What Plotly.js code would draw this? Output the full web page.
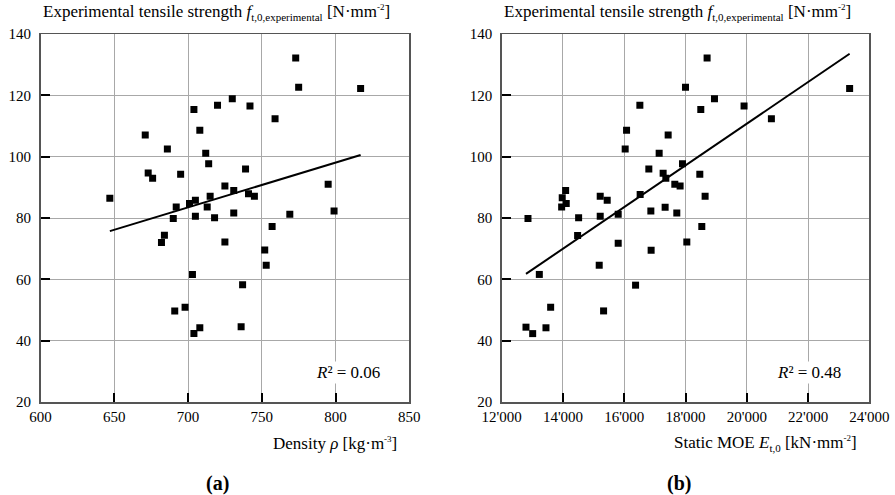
<!DOCTYPE html>
<html>
<head>
<meta charset="utf-8">
<script src="https://cdn.plot.ly/plotly-3.0.1.min.js"></script>
<style>
  html, body { margin: 0; padding: 0; background: #ffffff; }
  #chart { width: 895px; height: 495px; }
</style>
</head>
<body>
<div id="chart"></div>
<script>
// (a) Density vs experimental tensile strength
const densityRho = [647, 773, 775, 817, 730, 720, 742, 704, 759, 671, 708, 686, 712, 714, 739, 673, 676, 695, 795, 725, 731, 741, 745, 715, 705, 701, 692, 713, 799, 769, 731, 705, 718, 690, 757, 684, 682, 725, 752, 753, 703, 737, 698, 691, 708, 704, 736];
const strengthA  = [86.4, 132.2, 122.6, 122.2, 118.9, 116.8, 116.5, 115.4, 112.4, 107.1, 108.6, 102.5, 101.1, 97.7, 96.0, 94.7, 93.0, 94.3, 91.0, 90.4, 89.0, 87.9, 87.1, 87.1, 85.8, 84.7, 83.6, 83.6, 82.3, 81.2, 81.6, 80.6, 80.1, 79.8, 77.2, 74.4, 72.0, 72.2, 69.6, 64.6, 61.6, 58.2, 50.9, 49.7, 44.2, 42.3, 44.5];

// (b) Static MOE vs experimental tensile strength
const moeE      = [12858, 18705, 18000, 23358, 18946, 16510, 19912, 18499, 20804, 16076, 17434, 16031, 17140, 17902, 16803, 17270, 18467, 17358, 17651, 17824, 14087, 13976, 15216, 15444, 14107, 13957, 18640, 16520, 16869, 17335, 17716, 14511, 15216, 15803, 18532, 14478, 15803, 18043, 16878, 15183, 13228, 16370, 13598, 15326, 13445, 12793, 13011];
const strengthB = [79.8, 132.2, 122.6, 122.2, 118.9, 116.8, 116.5, 115.4, 112.4, 108.6, 107.1, 102.5, 101.1, 97.7, 96.0, 94.6, 94.3, 93.0, 91.0, 90.4, 89.0, 86.6, 87.1, 85.8, 84.7, 83.6, 87.1, 87.7, 82.3, 83.5, 81.6, 80.1, 80.6, 81.2, 77.2, 74.3, 71.8, 72.2, 69.5, 64.6, 61.6, 58.1, 50.9, 49.7, 44.2, 44.4, 42.3];

const r2Labels = ["0.06", "0.48"];
const xTickValsA = [600, 650, 700, 750, 800, 850];
const xTickValsB = [12000, 14000, 16000, 18000, 20000, 22000, 24000];
const xTickTextB = ["12'000", "14'000", "16'000", "18'000", "20'000", "22'000", "24'000"];
const yTickVals = [20, 40, 60, 80, 100, 120, 140];

function fitLine(xs, ys) {
  const n = xs.length;
  let sx = 0, sy = 0, sxx = 0, sxy = 0;
  for (let i = 0; i < n; i++) { sx += xs[i]; sy += ys[i]; sxx += xs[i]*xs[i]; sxy += xs[i]*ys[i]; }
  const b = (n*sxy - sx*sy) / (n*sxx - sx*sx);
  const a = (sy - b*sx) / n;
  const xmin = Math.min(...xs), xmax = Math.max(...xs);
  return { x: [xmin, xmax], y: [a + b*xmin, a + b*xmax] };
}

const fitA = fitLine(densityRho, strengthA);
const fitB = fitLine(moeE, strengthB);

const FONT = "Liberation Serif, Times New Roman, serif";

const traces = [
  { x: fitA.x, y: fitA.y, xaxis: 'x', yaxis: 'y', mode: 'lines', line: { color: '#000', width: 2 }, hoverinfo: 'skip' },
  { x: densityRho, y: strengthA, xaxis: 'x', yaxis: 'y', mode: 'markers', marker: { symbol: 'square', size: 7, color: '#000' } },
  { x: fitB.x, y: fitB.y, xaxis: 'x2', yaxis: 'y2', mode: 'lines', line: { color: '#000', width: 2 }, hoverinfo: 'skip' },
  { x: moeE, y: strengthB, xaxis: 'x2', yaxis: 'y2', mode: 'markers', marker: { symbol: 'square', size: 7, color: '#000' } }
];

const axisCommon = {
  showline: true, mirror: true, linecolor: '#555', linewidth: 1.5,
  showgrid: true, gridcolor: '#a8a8a8', gridwidth: 1,
  ticks: 'inside', ticklen: 9, tickwidth: 2, tickcolor: '#000',
  zeroline: false,
  tickfont: { family: FONT, size: 15, color: '#000' }
};

const yDom = [(495 - 402) / 495, (495 - 34) / 495];

const SUB = '<span style="font-size:11px">';
const SUP = '<span style="font-size:9px">';
const titleText = 'Experimental tensile strength <i>f</i><sub>' + SUB + 't,0,experimental</span></sub> [N·mm<sup>' + SUP + '-2</span></sup>]';

const layout = {
  width: 895, height: 495,
  margin: { l: 0, r: 0, t: 0, b: 0 },
  paper_bgcolor: '#fff', plot_bgcolor: '#fff',
  showlegend: false,
  font: { family: FONT, color: '#000' },
  xaxis: Object.assign({}, axisCommon, { domain: [40.5/895, 409.3/895], range: [600, 850], tickvals: xTickValsA, anchor: 'y' }),
  yaxis: Object.assign({}, axisCommon, { domain: yDom, range: [20, 140], tickvals: yTickVals, anchor: 'x', ticklabelstandoff: 5 }),
  xaxis2: Object.assign({}, axisCommon, { domain: [501.7/895, 869.3/895], range: [12000, 24000], tickvals: xTickValsB, ticktext: xTickTextB, anchor: 'y2' }),
  yaxis2: Object.assign({}, axisCommon, { domain: yDom, range: [20, 140], tickvals: yTickVals, anchor: 'x2', ticklabelstandoff: 5 }),
  annotations: [
    { xref: 'x domain', yref: 'paper', x: 0, y: 1 - 13/495, xanchor: 'left', yanchor: 'middle', showarrow: false, text: titleText, font: { family: FONT, size: 17 } },
    { xref: 'x2 domain', yref: 'paper', x: 0, y: 1 - 13/495, xanchor: 'left', yanchor: 'middle', showarrow: false, text: titleText, font: { family: FONT, size: 17 } },
    { xref: 'x domain', yref: 'paper', x: 1, xshift: -10, y: 1 - 443/495, xanchor: 'right', yanchor: 'middle', showarrow: false, text: 'Density <i>ρ</i> [kg·m<sup>' + SUP + '-3</span></sup>]', font: { family: FONT, size: 17 } },
    { xref: 'x2 domain', yref: 'paper', x: 1, xshift: -10, y: 1 - 443/495, xanchor: 'right', yanchor: 'middle', showarrow: false, text: 'Static MOE <i>E</i><sub>' + SUB + 't,0</span></sub> [kN·mm<sup>' + SUP + '-2</span></sup>]', font: { family: FONT, size: 17 } },
    { xref: 'x domain', yref: 'paper', x: 0.5, xshift: -7, y: 1 - 483/495, xanchor: 'center', yanchor: 'middle', showarrow: false, text: '<b>(a)</b>', font: { family: FONT, size: 20 } },
    { xref: 'x2 domain', yref: 'paper', x: 0.5, xshift: -7, y: 1 - 483/495, xanchor: 'center', yanchor: 'middle', showarrow: false, text: '<b>(b)</b>', font: { family: FONT, size: 20 } },
    { xref: 'x domain', yref: 'paper', x: 1, xshift: -27, y: 1 - 372/495, xanchor: 'right', yanchor: 'middle', showarrow: false, text: '<i>R</i>² = ' + r2Labels[0], font: { family: FONT, size: 17 }, bgcolor: '#fff' },
    { xref: 'x2 domain', yref: 'paper', x: 1, xshift: -26, y: 1 - 372/495, xanchor: 'right', yanchor: 'middle', showarrow: false, text: '<i>R</i>² = ' + r2Labels[1], font: { family: FONT, size: 17 }, bgcolor: '#fff' }
  ]
};

Plotly.newPlot('chart', traces, layout, { displayModeBar: false, staticPlot: true });
</script>
</body>
</html>
